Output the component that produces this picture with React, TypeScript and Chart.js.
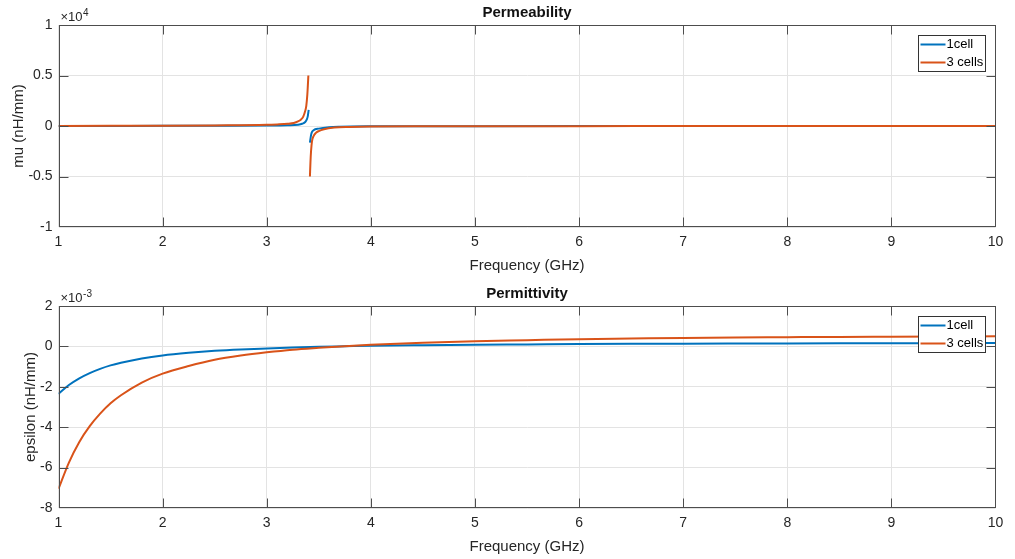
import React, { useEffect, useRef } from "react";
import { Chart, registerables } from "chart.js";

Chart.register(...registerables);

// ---------- data ----------
const freqTicks = [1, 2, 3, 4, 5, 6, 7, 8, 9, 10];
const muTicks = [-1, -0.5, 0, 0.5, 1];
const epsTicks = [-8, -6, -4, -2, 0, 2];

const seriesNames = ["1cell", "3 cells"];

// Permeability (units of 1e4 nH/mm)
const muFreq1Cell = [1, 1.5, 2, 2.5, 3, 3.2, 3.3, 3.34, 3.37, 3.385, 3.395, 3.403, 3.41, 3.415, 3.424, 3.432, 3.45, 3.5, 3.6, 3.7, 4, 4.5, 5, 6, 7, 8, 9, 10];
const mu1Cell = [0.0005, 0.001, 0.0015, 0.003, 0.005, 0.008, 0.013, 0.022, 0.04, 0.065, 0.1, 0.16, null, -0.165, -0.1, -0.065, -0.042, -0.026, -0.012, -0.007, -0.003, -0.002, -0.0015, -0.001, -0.0008, -0.0006, -0.0005, -0.0005];

const muFreq3Cells = [1, 1.5, 2, 2.5, 3, 3.1, 3.2, 3.26, 3.3, 3.33, 3.35, 3.37, 3.38, 3.39, 3.395, 3.4, 3.408, 3.415, 3.42, 3.426, 3.435, 3.45, 3.47, 3.5, 3.55, 3.65, 3.8, 4, 4.5, 5, 6, 7, 8, 9, 10];
const mu3Cells = [0.001, 0.002, 0.003, 0.006, 0.012, 0.016, 0.022, 0.03, 0.045, 0.065, 0.09, 0.15, 0.2, 0.31, 0.4, 0.5, null, -0.5, -0.36, -0.245, -0.15, -0.1, -0.07, -0.05, -0.032, -0.016, -0.01, -0.006, -0.003, -0.002, -0.0015, -0.001, -0.001, -0.0008, -0.0008];

// Permittivity (units of 1e-3 nH/mm)
const epsFreq = [1, 1.1, 1.2, 1.3, 1.4, 1.5, 1.6, 1.8, 2, 2.25, 2.5, 2.75, 3, 3.25, 3.5, 3.75, 4, 4.5, 5, 5.5, 6, 6.5, 7, 7.5, 8, 8.5, 9, 9.5, 10];
const eps1Cell = [-2.35, -1.91, -1.58, -1.32, -1.11, -0.94, -0.81, -0.6, -0.45, -0.32, -0.22, -0.15, -0.1, -0.055, -0.02, 0.005, 0.03, 0.06, 0.084, 0.1, 0.118, 0.128, 0.136, 0.143, 0.149, 0.154, 0.158, 0.162, 0.165];
const eps3Cells = [-7.05, -5.75, -4.73, -3.95, -3.33, -2.82, -2.42, -1.79, -1.35, -0.97, -0.66, -0.45, -0.29, -0.16, -0.07, 0.01, 0.08, 0.18, 0.26, 0.31, 0.36, 0.39, 0.42, 0.44, 0.455, 0.47, 0.48, 0.49, 0.5];

// ---------- styles ----------
const COLORS = ["#0072BD", "#D95319"];
const FONT = '"Liberation Sans", Arial, Helvetica, sans-serif';
const TEXT = "#262626";

const zip = (xs: number[], ys: (number | null)[]) => xs.map((x, i) => ({ x, y: ys[i] }));

const framePlugin = {
  id: "matlabFrame",
  afterDraw(chart: any, _args: any, opts: any) {
    const { ctx, chartArea: a, scales } = chart;
    ctx.save();
    const L = Math.round(a.left) + 0.5;
    const R = Math.round(a.right) - 0.5;
    const T = Math.round(a.top) + 0.5;
    const B = Math.round(a.bottom) - 0.5;
    ctx.strokeStyle = "#4d4d4d";
    ctx.lineWidth = 1;
    ctx.strokeRect(L, T, R - L, B - T);
    const tl = 9;
    ctx.beginPath();
    scales.x.ticks.forEach((t: any) => {
      const px = Math.round(scales.x.getPixelForValue(t.value)) + 0.5;
      if (px <= L + 1 || px >= R - 1) return;
      ctx.moveTo(px, B);
      ctx.lineTo(px, B - tl);
      ctx.moveTo(px, T);
      ctx.lineTo(px, T + tl);
    });
    scales.y.ticks.forEach((t: any) => {
      const py = Math.round(scales.y.getPixelForValue(t.value)) + 0.5;
      if (py <= T + 1 || py >= B - 1) return;
      ctx.moveTo(L, py);
      ctx.lineTo(L + tl, py);
      ctx.moveTo(R, py);
      ctx.lineTo(R - tl, py);
    });
    ctx.stroke();

    // title
    ctx.fillStyle = "#111";
    ctx.font = `bold 15px ${FONT}`;
    ctx.textAlign = "center";
    ctx.textBaseline = "alphabetic";
    ctx.fillText(opts.title, (a.left + a.right) / 2, a.top - 8);

    // exponent
    ctx.fillStyle = TEXT;
    ctx.textAlign = "left";
    ctx.font = `13px ${FONT}`;
    const base = "\u00d710";
    ctx.fillText(base, a.left + 2, a.top - 4);
    const w = ctx.measureText(base).width;
    ctx.font = `10px ${FONT}`;
    ctx.fillText(opts.power, a.left + 2 + w + 0.5, a.top - 9);

    // legend
    const bw = 67;
    const bh = 36;
    const bx = Math.round(a.right - 10.5 - bw) + 0.5;
    const by = Math.round(a.top + 10) + 0.5;
    ctx.fillStyle = "#fff";
    ctx.fillRect(bx, by, bw, bh);
    ctx.strokeStyle = "#333";
    ctx.lineWidth = 1;
    ctx.strokeRect(bx, by, bw, bh);
    ctx.font = `13px ${FONT}`;
    ctx.textBaseline = "middle";
    chart.data.datasets.forEach((ds: any, i: number) => {
      const yy = by + 9 + i * 18;
      ctx.strokeStyle = ds.borderColor;
      ctx.lineWidth = 2;
      ctx.beginPath();
      ctx.moveTo(bx + 2, yy);
      ctx.lineTo(bx + 27, yy);
      ctx.stroke();
      ctx.fillStyle = "#000";
      ctx.fillText(ds.label, bx + 28, yy);
    });
    ctx.restore();
  },
};

function makeConfig(
  datasets: any[],
  yTicks: number[],
  yTitle: string,
  yTitlePad: number,
  title: string,
  power: string
): any {
  return {
    type: "line",
    data: { datasets },
    plugins: [framePlugin],
    options: {
      responsive: false,
      animation: false,
      devicePixelRatio: 1,
      layout: { padding: { top: 25, right: 19.5, bottom: 0, left: 0 } },
      elements: { point: { radius: 0 } },
      plugins: {
        legend: { display: false },
        title: { display: false },
        tooltip: { enabled: false },
        matlabFrame: { title, power },
      },
      scales: {
        x: {
          type: "linear",
          min: freqTicks[0],
          max: freqTicks[freqTicks.length - 1],
          afterBuildTicks: (s: any) => {
            s.ticks = freqTicks.map((v) => ({ value: v }));
          },
          afterFit: (s: any) => {
            s.height = 52;
          },
          grid: { color: "#e3e3e3", drawTicks: false },
          border: { display: false },
          ticks: {
            padding: 7,
            color: TEXT,
            font: { family: FONT, size: 14 },
            autoSkip: false,
            maxRotation: 0,
            callback: (v: any) => String(v),
          },
          title: {
            display: true,
            text: "Frequency (GHz)",
            color: TEXT,
            font: { family: FONT, size: 15 },
            padding: { top: 0, bottom: 4 },
          },
        },
        y: {
          type: "linear",
          min: yTicks[0],
          max: yTicks[yTicks.length - 1],
          afterBuildTicks: (s: any) => {
            s.ticks = yTicks.map((v) => ({ value: v }));
          },
          afterFit: (s: any) => {
            s.width = 58.5;
          },
          grid: { color: "#e3e3e3", drawTicks: false },
          border: { display: false },
          ticks: {
            padding: 6,
            color: TEXT,
            font: { family: FONT, size: 14 },
            callback: (v: any) => String(v),
          },
          title: {
            display: true,
            text: yTitle,
            color: TEXT,
            font: { family: FONT, size: 15 },
            padding: { top: yTitlePad, bottom: 0 },
          },
        },
      },
    },
  };
}

function lineDs(label: string, data: any[], color: string, order: number) {
  return {
    label,
    data,
    borderColor: color,
    backgroundColor: color,
    borderWidth: 2,
    pointRadius: 0,
    fill: false,
    spanGaps: false,
    cubicInterpolationMode: "monotone",
    order,
  };
}

export default function App() {
  const topRef = useRef<HTMLCanvasElement>(null);
  const botRef = useRef<HTMLCanvasElement>(null);

  useEffect(() => {
    const c1 = new Chart(
      topRef.current as HTMLCanvasElement,
      makeConfig(
        [
          lineDs(seriesNames[0], zip(muFreq1Cell, mu1Cell), COLORS[0], 1),
          lineDs(seriesNames[1], zip(muFreq3Cells, mu3Cells), COLORS[1], 0),
        ],
        muTicks,
        "mu (nH/mm)",
        10,
        "Permeability",
        "4"
      )
    );
    const c2 = new Chart(
      botRef.current as HTMLCanvasElement,
      makeConfig(
        [
          lineDs(seriesNames[0], zip(epsFreq, eps1Cell), COLORS[0], 1),
          lineDs(seriesNames[1], zip(epsFreq, eps3Cells), COLORS[1], 0),
        ],
        epsTicks,
        "epsilon (nH/mm)",
        22,
        "Permittivity",
        "-3"
      )
    );
    return () => {
      c1.destroy();
      c2.destroy();
    };
  }, []);

  return (
    <div
      style={{
        position: "fixed",
        left: 0,
        top: 0,
        width: 1015,
        height: 559,
        background: "#fff",
        overflow: "hidden",
      }}
    >
      <canvas
        ref={topRef}
        width={1015}
        height={279}
        style={{ position: "absolute", left: 0, top: 0, width: 1015, height: 279 }}
      />
      <canvas
        ref={botRef}
        width={1015}
        height={279}
        style={{ position: "absolute", left: 0, top: 281, width: 1015, height: 279 }}
      />
    </div>
  );
}
